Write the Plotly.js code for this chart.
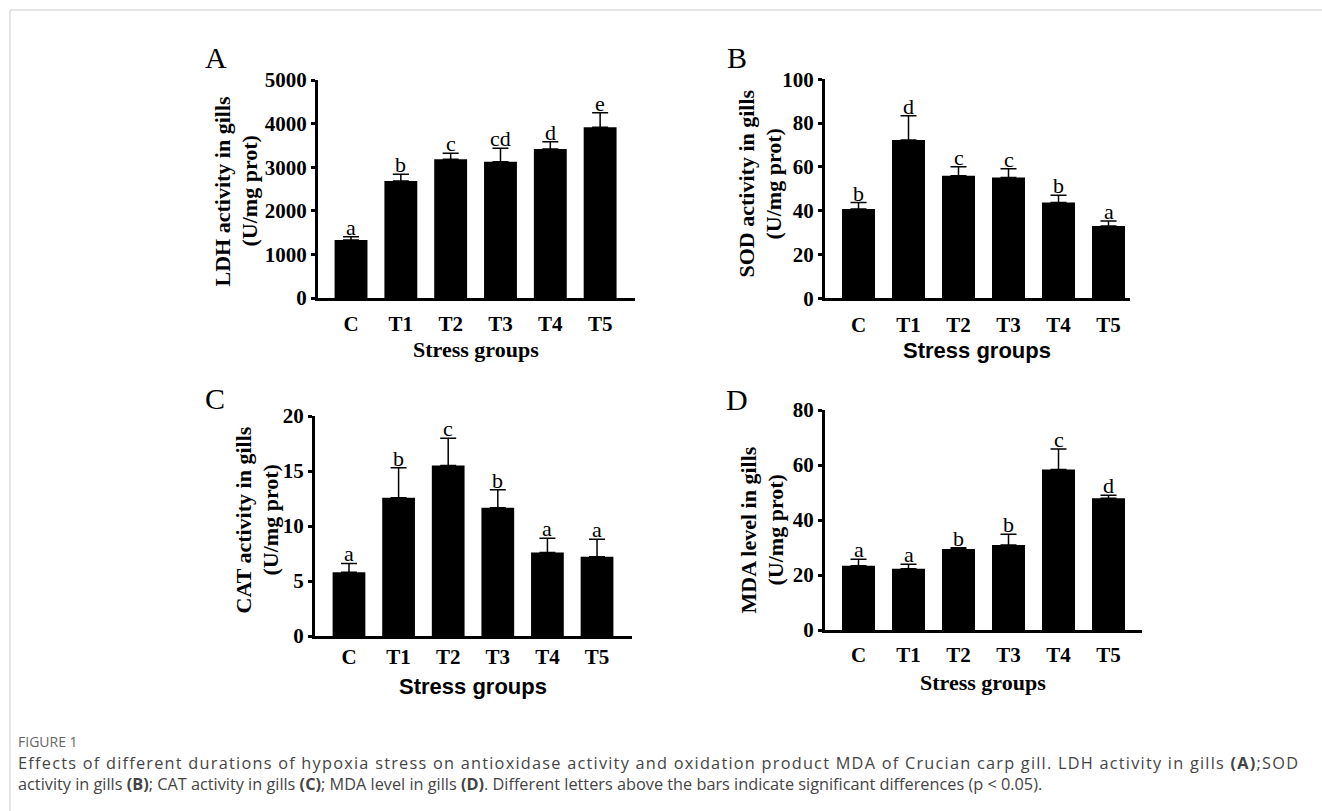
<!DOCTYPE html>
<html>
<head>
<meta charset="utf-8">
<script src="https://cdn.plot.ly/plotly-3.0.1.min.js"></script>
<style>
html,body{margin:0;padding:0;background:#fff;}
#chart{width:1322px;height:811px;}
</style>
</head>
<body>
<div id="chart"></div>
<script>
// ---- data ----
const groups = ["C", "T1", "T2", "T3", "T4", "T5"];

const ldhMean = [1330, 2683, 3181, 3127, 3417, 3915];
const ldhSD   = [75, 154, 137, 306, 168, 335];
const ldhSig  = ["a", "b", "c", "cd", "d", "e"];

const sodMean = [40.8, 72.3, 56.0, 55.2, 43.8, 33.0];
const sodSD   = [2.9, 11.1, 4.1, 4.0, 3.2, 2.3];
const sodSig  = ["b", "d", "c", "c", "b", "a"];

const catMean = [5.8, 12.57, 15.5, 11.67, 7.58, 7.2];
const catSD   = [0.8, 2.73, 2.47, 1.63, 1.3, 1.6];
const catSig  = ["a", "b", "c", "b", "a", "a"];

const mdaMean = [23.4, 22.3, 29.45, 30.9, 58.4, 47.9];
const mdaSD   = [2.3, 1.6, 0.45, 3.9, 7.4, 1.1];
const mdaSig  = ["a", "a", "b", "b", "c", "d"];

const yTitleLine1 = ["LDH activity in gills", "SOD activity in gills", "CAT activity in gills", "MDA level in gills"];
const yTitleLine2 = "(U/mg prot)";
const panelLetters = ["A", "B", "C", "D"];
const xTitle = "Stress groups";
const captionHead = "FIGURE 1";
const captionLine1 = "Effects of different durations of hypoxia stress on antioxidase activity and oxidation product MDA of Crucian carp gill. LDH activity in gills <b>(A)</b>;SOD";
const captionLine2 = "activity in gills <b>(B)</b>; CAT activity in gills <b>(C)</b>; MDA level in gills <b>(D)</b>. Different letters above the bars indicate significant differences (p &lt; 0.05).";

// ---- layout geometry (pixels) ----
const W = 1322, H = 811;
const SERIF = "Liberation Serif, Times New Roman, serif";
const SANS = "Liberation Sans, Arial, sans-serif";
const CAPFONT = "Open Sans";
const CAPSIZE = 16.3;
const CAP_LEFT = 18, CAP_RIGHT = 1298;
const panels = [
  {mean: ldhMean, sd: ldhSD, sig: ldhSig, x0: 318, x1: 635, yb: 298, yt: 80, ymax: 5000, dtick: 1000, xr: [-0.663, 5.70], ticklen: 5,
   title: {x: 235, y: 191}, letter: {x: 216, y: 58}, xt: {x: 476, y: 349, font: SERIF, size: 22}},
  {mean: sodMean, sd: sodSD, sig: sodSig, x0: 825, x1: 1130, yb: 298.3, yt: 79.3, ymax: 100, dtick: 20, xr: [-0.67, 5.43], ticklen: 5,
   title: {x: 759, y: 184}, letter: {x: 737, y: 58}, xt: {x: 977, y: 351, font: SANS, size: 22}},
  {mean: catMean, sd: catSD, sig: catSig, x0: 315, x1: 632, yb: 636, yt: 416, ymax: 20, dtick: 5, xr: [-0.685, 5.705], ticklen: 0,
   title: {x: 256, y: 520}, letter: {x: 215, y: 398}, xt: {x: 473, y: 686, font: SANS, size: 22}},
  {mean: mdaMean, sd: mdaSD, sig: mdaSig, x0: 825, x1: 1142, yb: 630, yt: 410, ymax: 80, dtick: 20, xr: [-0.67, 5.67], ticklen: 4,
   title: {x: 761, y: 530}, letter: {x: 737, y: 399}, xt: {x: 983, y: 682, font: SERIF, size: 22}}
];

const px = v => v / W;
const py = v => 1 - v / H;

const traces = [];
const layout = {
  width: W, height: H,
  margin: {l: 0, r: 0, t: 0, b: 0},
  paper_bgcolor: "#ffffff",
  plot_bgcolor: "rgba(0,0,0,0)",
  showlegend: false,
  annotations: [],
  shapes: [
    {type: "line", xref: "paper", yref: "paper", x0: px(10), x1: px(1322), y0: py(10), y1: py(10), line: {color: "#cccccc", width: 1}},
    {type: "line", xref: "paper", yref: "paper", x0: px(10), x1: px(10), y0: py(10), y1: py(811), line: {color: "#cccccc", width: 1}}
  ]
};

panels.forEach((p, i) => {
  const n = i + 1;
  const xa = n === 1 ? "x" : "x" + n;
  const ya = n === 1 ? "y" : "y" + n;
  traces.push({
    type: "bar", x: groups, y: p.mean, xaxis: xa, yaxis: ya,
    width: 0.66,
    marker: {color: "#000000", line: {width: 0}},
    error_y: {type: "data", symmetric: false, array: p.sd, arrayminus: p.sd.map(() => 0),
              color: "#000000", thickness: 1.5, width: 8},
    hoverinfo: "skip"
  });
  layout["xaxis" + (n === 1 ? "" : n)] = {
    domain: [px(p.x0), px(p.x1)], anchor: ya, type: "category",
    categoryorder: "array", categoryarray: groups,
    range: p.xr, showgrid: false, zeroline: false,
    showline: true, linecolor: "#000", linewidth: 3,
    ticks: p.ticklen > 0 ? "outside" : "", ticklen: p.ticklen, tickcolor: "rgba(0,0,0,0)",
    tickfont: {family: SERIF, size: 21, color: "#000", weight: "bold"},
    fixedrange: true
  };
  layout["yaxis" + (n === 1 ? "" : n)] = {
    domain: [py(p.yb), py(p.yt)], anchor: xa,
    range: [0, p.ymax], dtick: p.dtick, tick0: 0,
    showgrid: false, zeroline: false,
    showline: true, linecolor: "#000", linewidth: 3,
    ticks: "outside", ticklen: 4, tickwidth: 3, tickcolor: "#000",
    tickfont: {family: SERIF, size: 21, color: "#000", weight: "bold"},
    fixedrange: true
  };
  p.sig.forEach((s, k) => {
    layout.annotations.push({
      xref: xa, yref: ya, x: groups[k], y: p.mean[k] + p.sd[k],
      text: s, showarrow: false, xanchor: "center", yanchor: "bottom", yshift: -5,
      font: {family: SERIF, size: 22, color: "#000"}
    });
  });
  [[yTitleLine1[i], -13.5], [yTitleLine2, 13.5]].forEach(([t, dx]) => {
    layout.annotations.push({
      xref: "paper", yref: "paper", x: px(p.title.x + dx), y: py(p.title.y),
      text: t, showarrow: false, textangle: -90, xanchor: "center", yanchor: "middle",
      font: {family: SERIF, size: 22, color: "#000", weight: "bold"}
    });
  });
  layout.annotations.push({
    xref: "paper", yref: "paper", x: px(p.letter.x), y: py(p.letter.y),
    text: panelLetters[i], showarrow: false, xanchor: "center", yanchor: "middle",
    font: {family: SERIF, size: 30, color: "#000"}
  });
  layout.annotations.push({
    xref: "paper", yref: "paper", x: px(p.xt.x), y: py(p.xt.y),
    text: xTitle, showarrow: false, xanchor: "center", yanchor: "middle",
    font: {family: p.xt.font, size: p.xt.size, color: "#000", weight: "bold"}
  });
});

// ---- caption ----
layout.annotations.push({
  xref: "paper", yref: "paper", x: px(CAP_LEFT), y: py(741), text: captionHead, showarrow: false,
  xanchor: "left", yanchor: "middle", borderpad: 0, borderwidth: 0,
  font: {family: CAPFONT, size: 14, color: "#666666"}
});
const line1Index = layout.annotations.length;
layout.annotations.push({
  xref: "paper", yref: "paper", x: px(CAP_LEFT), y: py(763), text: captionLine1, showarrow: false,
  xanchor: "left", yanchor: "middle", borderpad: 0, borderwidth: 0,
  font: {family: CAPFONT, size: CAPSIZE, color: "#444444"}
});
layout.annotations.push({
  xref: "paper", yref: "paper", x: px(CAP_LEFT), y: py(784), text: captionLine2, showarrow: false,
  xanchor: "left", yanchor: "middle", borderpad: 0, borderwidth: 0,
  font: {family: CAPFONT, size: CAPSIZE, color: "#444444"}
});

Plotly.newPlot("chart", traces, layout, {displayModeBar: false, staticPlot: true}).then(gd => {
  // justify the first caption line across the text block width (letter spacing)
  const g = gd.querySelector('g.annotation[data-index="' + line1Index + '"]');
  if (!g) return;
  const t = g.querySelector("text.annotation-text");
  if (!t) return;
  const origin = gd.getBoundingClientRect().left;
  const natural = t.getComputedTextLength();
  const nChars = t.textContent.length;
  const ls = (CAP_RIGHT - CAP_LEFT - natural) / Math.max(1, nChars - 1);
  if (ls > 0) t.style.letterSpacing = ls + "px";
  const r = t.getBoundingClientRect();
  const diff = CAP_LEFT - (r.left - origin);
  const prev = t.getAttribute("transform") || "";
  t.setAttribute("transform", prev + " translate(" + diff + ",0)");
});
</script>
</body>
</html>
